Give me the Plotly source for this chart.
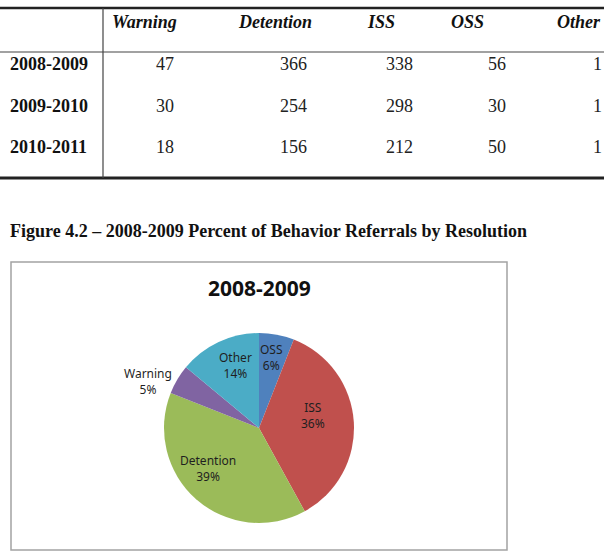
import math
import plotly.graph_objects as go

# ---------------- data ----------------
years = ["2008-2009", "2009-2010", "2010-2011"]
table_headers = ["Warning", "Detention", "ISS", "OSS", "Other"]
warning_vals = [47, 30, 18]
detention_vals = [366, 254, 156]
iss_vals = [338, 298, 212]
oss_vals = [56, 30, 50]
other_visible = ["1", "1", "1"]   # column is cut off at the page edge

pie_labels = ["OSS", "ISS", "Detention", "Warning", "Other"]
pie_values = [56, 338, 366, 47, 131]
pie_colors = ["#4F81BD", "#C0504D", "#9BBB59", "#8064A2", "#4BACC6"]

caption = "Figure 4.2 \u2013 2008-2009 Percent of Behavior Referrals by Resolution"
chart_title = "2008-2009"

# style: radial placement of each slice label (fraction of radius) and angle nudge (deg)
label_radius = [0.75, 0.58, 0.69, 1.27, 0.70]
label_nudge = [-1, -10, 10, -8, 4]

W, H = 604, 551

fig = go.Figure()

# ---------------- pie ----------------
cx, cy, r = 259, 428, 95
fig.add_trace(go.Pie(
    labels=pie_labels, values=pie_values, sort=False, direction="clockwise",
    rotation=0,
    marker=dict(colors=pie_colors, line=dict(width=0)),
    textinfo="none",
    domain=dict(x=[(cx - r) / W, (cx + r) / W], y=[1 - (cy + r) / H, 1 - (cy - r) / H]),
    showlegend=False, hoverinfo="label+value+percent",
))

# invisible pixel axes for table layout
fig.update_xaxes(range=[0, W], visible=False, domain=[0, 1], fixedrange=True)
fig.update_yaxes(range=[H, 0], visible=False, domain=[0, 1], fixedrange=True)

shapes = []
shapes.append(dict(type="line", xref="x", yref="y", x0=0, x1=W, y0=8, y1=8,
                   line=dict(color="#222", width=2.5)))
shapes.append(dict(type="line", xref="x", yref="y", x0=0, x1=W, y0=52, y1=52,
                   line=dict(color="#444", width=1.2)))
shapes.append(dict(type="line", xref="x", yref="y", x0=0, x1=W, y0=178, y1=178,
                   line=dict(color="#222", width=3)))
shapes.append(dict(type="line", xref="x", yref="y", x0=103, x1=103, y0=8, y1=178,
                   line=dict(color="#444", width=1.2)))
shapes.append(dict(type="rect", xref="x", yref="y", x0=11, x1=507, y0=262, y1=550,
                   line=dict(color="#a3a3a3", width=1.5)))

ann = []
serif = "Liberation Serif"
fs = 18
header_x = [144, 275, 381, 467, 603]
for i, h in enumerate(table_headers):
    anchor = "right" if h == "Other" else "center"
    ann.append(dict(x=header_x[i], y=22, xref="x", yref="y", text="<b><i>%s</i></b>" % h,
                    showarrow=False, xanchor=anchor, yanchor="middle",
                    font=dict(family=serif, size=fs, color="#111")))
row_y = [64, 106, 147]
col_right = [176, 309, 415, 508]
for j, yr in enumerate(years):
    ann.append(dict(x=8, y=row_y[j], xref="x", yref="y", text="<b>%s</b>" % yr,
                    showarrow=False, xanchor="left", yanchor="middle",
                    font=dict(family=serif, size=fs, color="#111")))
    vals = [warning_vals[j], detention_vals[j], iss_vals[j], oss_vals[j]]
    for k, v in enumerate(vals):
        ann.append(dict(x=col_right[k], y=row_y[j], xref="x", yref="y", text=str(v),
                        showarrow=False, xanchor="right", yanchor="middle",
                        font=dict(family=serif, size=fs, color="#222")))
    ann.append(dict(x=604, y=row_y[j], xref="x", yref="y", text=other_visible[j],
                    showarrow=False, xanchor="right", yanchor="middle",
                    font=dict(family=serif, size=fs, color="#222")))

ann.append(dict(x=8, y=231, xref="x", yref="y", text="<b>%s</b>" % caption,
                showarrow=False, xanchor="left", yanchor="middle",
                font=dict(family=serif, size=fs, color="#111")))
ann.append(dict(x=259, y=288, xref="x", yref="y", text="<b>%s</b>" % chart_title,
                showarrow=False, xanchor="center", yanchor="middle",
                font=dict(family="Open Sans", size=21, color="#111")))

# pie slice labels placed from the data (mid-angle of each slice)
total = sum(pie_values)
start = 0.0
for i, (lab, v) in enumerate(zip(pie_labels, pie_values)):
    frac = v / total
    mid = (start + frac / 2) * 360 + label_nudge[i]
    start += frac
    d = label_radius[i] * r
    lx = cx + d * math.sin(math.radians(mid))
    ly = cy - d * math.cos(math.radians(mid))
    ann.append(dict(x=lx, y=ly, xref="x", yref="y",
                    text="%s<br>%d%%" % (lab, round(frac * 100)),
                    showarrow=False, xanchor="center", yanchor="middle",
                    font=dict(family="Noto Sans", size=12, color="#1f1f1f")))

fig.update_layout(
    width=W, height=H, margin=dict(l=0, r=0, t=0, b=0),
    paper_bgcolor="white", plot_bgcolor="white",
    shapes=shapes, annotations=ann,
)

fig.write_html("out.html")
